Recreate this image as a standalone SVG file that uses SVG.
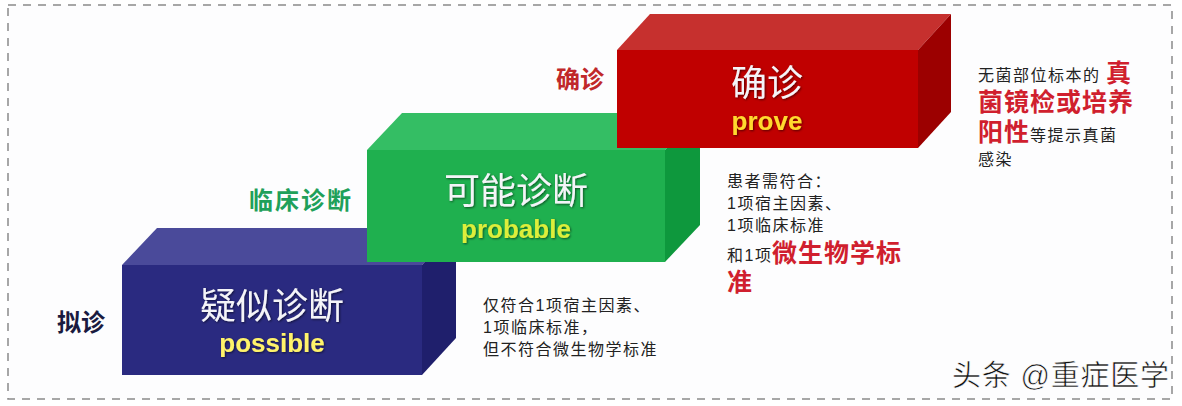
<svg xmlns="http://www.w3.org/2000/svg" width="1182" height="406" viewBox="0 0 1182 406">
  <defs>
    <filter id="sh" x="-10%" y="-20%" width="130%" height="150%">
      <feDropShadow dx="1" dy="1" stdDeviation="0.8" flood-color="#000" flood-opacity="0.55"/>
    </filter>
    <style>
      .cn { font-family: "Liberation Sans", "Noto Sans CJK SC", sans-serif; }
      .big { font-size: 36px; fill: #F4F4F8; text-anchor: middle; filter: url(#sh); }
      .en { font-family: "Liberation Sans", Arial, sans-serif; font-weight: bold; font-size: 26px; text-anchor: middle; filter: url(#sh); }
      .lbl { font-size: 24px; font-weight: bold; }
      .small { font-size: 16px; fill: #222; letter-spacing: 1.5px; }
      .hl { font-size: 25px; font-weight: bold; fill: #D01F2E; letter-spacing: 1px; }
    </style>
  </defs>
  <rect x="0" y="0" width="1182" height="406" fill="#FFFFFF"/>
  <rect x="8" y="5" width="1164" height="394" fill="#FDFDFE" stroke="#8A8A8A" stroke-width="1.5" stroke-dasharray="8 7"/>

  <g id="box-possible">
    <polygon points="122,265 157,228 456,228 422,265" fill="#4A4A9A"/>
    <polygon points="422,265 456,228 456,338 422,375" fill="#1F1F6C"/>
    <rect x="122" y="265" width="300" height="110" fill="#2A2A80"/>
    <text class="cn big" x="272" y="319">疑似诊断</text>
    <text class="en" x="272" y="352" fill="#FFF36A">possible</text>
  </g>

  <g id="box-probable">
    <polygon points="367,150 402,113 700,113 665,150" fill="#34BE64"/>
    <polygon points="665,150 700,113 700,225 665,262" fill="#0E983D"/>
    <rect x="367" y="150" width="298" height="112" fill="#1FB04F"/>
    <text class="cn big" x="516" y="204">可能诊断</text>
    <text class="en" x="516" y="238" fill="#DDEE3A">probable</text>
  </g>

  <g id="box-prove">
    <polygon points="617,50 650,14 951,14 918,50" fill="#C6302E"/>
    <polygon points="918,50 951,14 951,112 918,148" fill="#9C0000"/>
    <rect x="617" y="50" width="301" height="98" fill="#C00000"/>
    <text class="cn big" x="767" y="96">确诊</text>
    <text class="en" x="767" y="130" fill="#FFD92E">prove</text>
  </g>

  <g id="label-nizhen">
    <text class="cn lbl" x="57" y="331" fill="#1A1A40">拟诊</text>
  </g>
  <g id="label-linchuang">
    <text class="cn lbl" x="249" y="209" fill="#1FA05A" letter-spacing="2">临床诊断</text>
  </g>
  <g id="label-quezhen">
    <text class="cn lbl" x="556" y="88" fill="#C0282A">确诊</text>
  </g>

  <g id="desc-possible">
    <text class="cn small" x="483" y="311">仅符合1项宿主因素、</text>
    <text class="cn small" x="483" y="333">1项临床标准，</text>
    <text class="cn small" x="483" y="355">但不符合微生物学标准</text>
  </g>

  <g id="desc-probable">
    <text class="cn small" x="727" y="187">患者需符合：</text>
    <text class="cn small" x="727" y="209">1项宿主因素、</text>
    <text class="cn small" x="727" y="231">1项临床标准</text>
    <text class="cn small" x="727" y="261">和1项</text>
    <text class="cn hl" x="772" y="262" font-size="24" letter-spacing="2">微生物学标</text>
    <text class="cn hl" x="727" y="291" font-size="24">准</text>
  </g>

  <g id="desc-prove">
    <text class="cn small" x="978" y="81" letter-spacing="2">无菌部位标本的</text>
    <text class="cn hl" x="1106" y="82">真</text>
    <text class="cn hl" x="978" y="111">菌镜检或培养</text>
    <text class="cn hl" x="978" y="141">阳性</text>
    <text class="cn small" x="1030" y="141">等提示真菌</text>
    <text class="cn small" x="978" y="165">感染</text>
  </g>

  <g id="watermark">
    <text class="cn" x="952" y="386" font-size="29" letter-spacing="0.8" fill="#111" stroke="#FFF" stroke-width="0.6">头条 @重症医学</text>
  </g>
</svg>
